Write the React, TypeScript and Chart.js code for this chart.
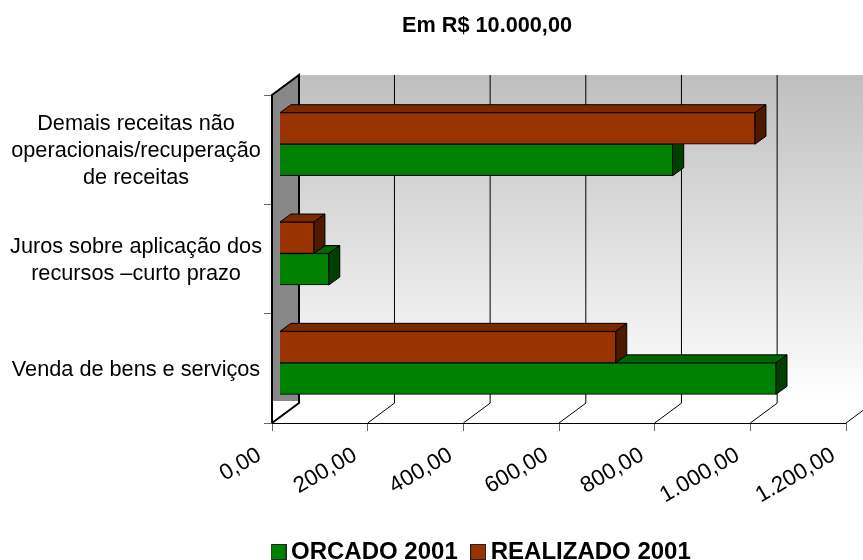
import React, { useEffect, useRef } from "react";
import { Chart, registerables } from "chart.js";

Chart.register(...registerables);

const categories = [
  ["Demais receitas não", "operacionais/recuperação", "de receitas"],
  ["Juros sobre aplicação dos", "recursos –curto prazo"],
  "Venda de bens e serviços",
];
const realizado = [994, 72, 703];
const orcado = [822, 103, 1038];
const xTickLabels = ["0,00", "200,00", "400,00", "600,00", "800,00", "1.000,00", "1.200,00"];
const seriesNames = ["ORCADO 2001", "REALIZADO 2001"];
const titleText = "Em R$ 10.000,00";

const FONT = "'Liberation Sans', Arial, sans-serif";
const DX = 27;
const DY = -20;
const BAR_SHIFT_X = 7.5;
const BAR_SHIFT_Y = -5.5;
const BAR_DX = 11;
const BAR_DY = -8;
const GREEN = { front: "#008000", top: "#006600", side: "#004000" };
const RED = { front: "#993300", top: "#7a2900", side: "#4d1a00" };

function swatch(color: string) {
  const c = document.createElement("canvas");
  c.width = 16;
  c.height = 16;
  const g = c.getContext("2d")!;
  g.fillStyle = color;
  g.fillRect(0, 0, 16, 16);
  g.strokeStyle = "#222";
  g.lineWidth = 1;
  g.strokeRect(0.5, 0.5, 15, 15);
  return c;
}

const scene3d = {
  id: "scene3d",
  afterLayout(chart: any) {
    chart.legend.left = 258;
    chart.legend.top = 520;
    chart.titleBlock.left += 55.5;
    chart.titleBlock.right += 55.5;
  },
  beforeDatasetsDraw(chart: any) {
    const { ctx, chartArea: a, scales } = chart;
    const xs = scales.x;
    ctx.save();
    const wall = ctx.createLinearGradient(0, a.top + DY, 0, a.bottom + DY);
    wall.addColorStop(0, "#bfbfbf");
    wall.addColorStop(1, "#ffffff");
    ctx.fillStyle = wall;
    ctx.fillRect(a.left + DX, a.top + DY, chart.width - a.left - DX, a.bottom - a.top);
    ctx.fillStyle = "#888888";
    ctx.beginPath();
    ctx.moveTo(a.left, a.top);
    ctx.lineTo(a.left + DX, a.top + DY);
    ctx.lineTo(a.left + DX, a.bottom + DY - 2);
    ctx.lineTo(a.left, a.bottom + DY - 2);
    ctx.closePath();
    ctx.fill();
    ctx.lineWidth = 1;
    ctx.strokeStyle = "#000";
    xs.ticks.forEach((t: any) => {
      const px = xs.getPixelForValue(t.value);
      if (t.value > 0) {
        ctx.beginPath();
        ctx.moveTo(px + DX - 0.2, a.top + DY);
        ctx.lineTo(px + DX - 0.2, a.bottom + DY);
        ctx.stroke();
      }
      ctx.beginPath();
      ctx.moveTo(px, a.bottom);
      ctx.lineTo(px + DX, a.bottom + DY);
      ctx.stroke();
    });
    ctx.beginPath();
    ctx.moveTo(a.left, a.bottom + 0.5);
    ctx.lineTo(a.right, a.bottom + 0.5);
    ctx.stroke();
    ctx.lineWidth = 2;
    ctx.beginPath();
    ctx.moveTo(a.left, a.bottom);
    ctx.lineTo(a.left, a.top);
    ctx.lineTo(a.left + DX, a.top + DY);
    ctx.lineTo(a.left + DX, a.bottom + DY);
    ctx.lineTo(a.left, a.bottom);
    ctx.stroke();
    ctx.restore();

    ctx.save();
    ctx.translate(BAR_SHIFT_X, BAR_SHIFT_Y);
    ctx.lineWidth = 1;
    ctx.strokeStyle = "#000";
    const faces = (dsIndex: number, c: typeof GREEN) => {
      chart.getDatasetMeta(dsIndex).data.forEach((el: any) => {
        const p = el.getProps(["x", "y", "base", "height"], true);
        const top = p.y - p.height / 2;
        const bot = p.y + p.height / 2;
        ctx.fillStyle = c.top;
        ctx.beginPath();
        ctx.moveTo(p.base, top);
        ctx.lineTo(p.base + BAR_DX, top + BAR_DY);
        ctx.lineTo(p.x + BAR_DX, top + BAR_DY);
        ctx.lineTo(p.x, top);
        ctx.closePath();
        ctx.fill();
        ctx.stroke();
        ctx.fillStyle = c.side;
        ctx.beginPath();
        ctx.moveTo(p.x, top);
        ctx.lineTo(p.x + BAR_DX, top + BAR_DY);
        ctx.lineTo(p.x + BAR_DX, bot + BAR_DY);
        ctx.lineTo(p.x, bot);
        ctx.closePath();
        ctx.fill();
        ctx.stroke();
      });
    };
    faces(1, GREEN);
    faces(0, RED);
    ctx.restore();

    ctx.save();
    ctx.translate(BAR_SHIFT_X, BAR_SHIFT_Y);
  },
  afterDatasetsDraw(chart: any) {
    chart.ctx.restore();
  },
};

export default function App() {
  const ref = useRef<HTMLCanvasElement>(null);
  useEffect(() => {
    const swatches = [swatch(GREEN.front), swatch(RED.front)];
    const chart = new Chart(ref.current!, {
      type: "bar",
      data: {
        labels: categories as any,
        datasets: [
          { label: seriesNames[1], data: realizado, backgroundColor: RED.front, borderColor: "#000", borderWidth: 1, barThickness: 31.5, clip: false as any },
          { label: seriesNames[0], data: orcado, backgroundColor: GREEN.front, borderColor: "#000", borderWidth: 1, barThickness: 31.5, clip: false as any },
        ],
      },
      plugins: [scene3d],
      options: {
        indexAxis: "y",
        responsive: false,
        animation: false,
        layout: { padding: 0 },
        plugins: {
          tooltip: { enabled: false },
          title: {
            display: true,
            text: titleText,
            color: "#000",
            font: { family: FONT, size: 21.7, weight: "bold", lineHeight: 1.2 },
            padding: { top: 12.6, bottom: 56.4 },
          },
          legend: {
            position: "bottom",
            align: "start",
            onClick: () => {},
            labels: {
              color: "#000",
              font: { family: FONT, size: 24, weight: "bold" },
              usePointStyle: true,
              pointStyleWidth: 1,
              padding: 20,
              generateLabels: () =>
                seriesNames.map((text, i) => ({
                  text,
                  pointStyle: swatches[i],
                  datasetIndex: 1 - i,
                  fontColor: "#000",
                  hidden: false,
                })) as any,
            },
          },
        },
        scales: {
          x: {
            type: "linear",
            min: 0,
            max: 1200,
            afterFit: (s: any) => {
              s.height = 560 - 423 - (s.chart.legend?.height || 0);
              s.paddingRight = 17;
              s.paddingLeft = 0;
            },
            grid: { drawOnChartArea: false, drawTicks: true, tickLength: 8, color: "#666" },
            border: { display: false },
            ticks: {
              stepSize: 200,
              minRotation: 30,
              maxRotation: 30,
              color: "#000",
              padding: 11,
              labelOffset: -12.5,
              font: { family: FONT, size: 22.5 },
              callback: (_v: any, i: number) => xTickLabels[i],
            },
          },
          y: {
            type: "category",
            afterFit: (s: any) => {
              s.width = 272;
            },
            grid: { drawOnChartArea: false, drawTicks: true, tickLength: 8, color: "#666", offset: true },
            border: { display: false },
            ticks: {
              crossAlign: "center",
              color: "#000",
              padding: 2,
              labelOffset: 1.5,
              font: { family: FONT, size: 21.7, lineHeight: 1.24 },
            },
          },
        },
      } as any,
    });
    return () => chart.destroy();
  }, []);
  return (
    <div style={{ position: "absolute", left: 0, top: 0, width: 863, height: 560, background: "#fff" }}>
      <canvas ref={ref} width={863} height={560} style={{ display: "block" }} />
    </div>
  );
}
